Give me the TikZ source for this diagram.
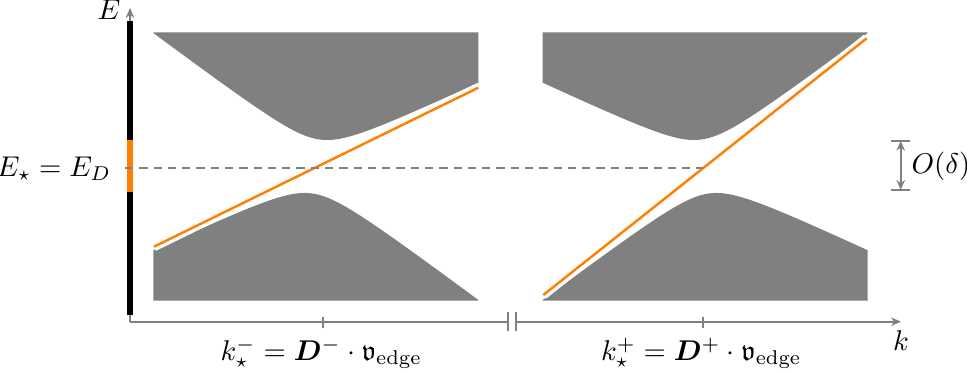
\documentclass[tikz,border=0pt]{standalone}
\usepackage{amsmath,amssymb,bm}
\usetikzlibrary{arrows.meta}
\begin{document}
\begin{tikzpicture}[x=0.35pt,y=-0.35pt,
  declare function={
    yU(\t)=159.47+0.14*(\t-319.3)-100*sqrt(0.3721*((\t-319.3)/100)^2+0.04);
    yL(\t)=333-yU(631.6-\t);
    yUR(\t)=yU(1021-\t);
    yLR(\t)=yL(1021-\t);
  },
  band/.style={fill=gray},
  edgeline/.style={draw=orange, line width=0.85pt, preaction={draw=white, line width=3.2pt}},
  axis/.style={draw=gray, line width=0.6pt},
  lbl/.style={inner sep=0pt},
  >={Stealth[length=3.5pt,width=3pt]}
]
\useasboundingbox (0,0) rectangle (967,373);
% bands
\fill[band] (153.3,32.3) -- plot[domain=153.3:478.3,samples=150] (\x,{yU(\x)}) -- (478.3,32.3) -- cycle;
\fill[band] (153.3,300.7) -- plot[domain=153.3:478.3,samples=150] (\x,{yL(\x)}) -- (478.3,300.7) -- cycle;
\fill[band] (542.7,32.3) -- plot[domain=542.7:867.7,samples=150] (\x,{yUR(\x)}) -- (867.7,32.3) -- cycle;
\fill[band] (542.7,300.7) -- plot[domain=542.7:867.7,samples=150] (\x,{yLR(\x)}) -- (867.7,300.7) -- cycle;
% edge states
\coordinate (oL1) at (154,246.7);
\coordinate (oL2) at (478.3,87.7);
\coordinate (oR1) at (543.3,295);
\coordinate (oR2) at (866.7,38.3);
\draw[edgeline] (oL1) -- (oL2);
\draw[edgeline] (oR1) -- (oR2);
% axes
\coordinate (O) at (130,321.7);
\coordinate (Etop) at (130,8);
\coordinate (brkL) at (508.3,321.7);
\coordinate (brkR) at (516,321.7);
\coordinate (kend) at (901,321.7);
\draw[axis,->] (O) -- (Etop);
\draw[axis] (O) -- (brkL);
\draw[axis,->] (brkR) -- (kend);
\draw[axis] ([yshift=-9.7*0.35pt]brkL) -- ([yshift=9.3*0.35pt]brkL);
\draw[axis] ([yshift=-9.7*0.35pt]brkR) -- ([yshift=9.3*0.35pt]brkR);
\coordinate (tk1) at (323.3,321.7);
\coordinate (tk2) at (703.3,321.7);
\draw[axis] ([yshift=-6.5*0.35pt]tk1) -- ([yshift=5*0.35pt]tk1);
\draw[axis] ([yshift=-6.5*0.35pt]tk2) -- ([yshift=5*0.35pt]tk2);
% spectrum bar
\coordinate (b1) at (130,21);
\coordinate (b2) at (130,140);
\coordinate (b3) at (130,191.7);
\coordinate (b4) at (130,315);
\draw[line width=2.1pt] (b1) -- (b2);
\draw[line width=2.1pt, orange] (b2) -- (b3);
\draw[line width=2.1pt] (b3) -- (b4);
% dashed level
\coordinate (dl) at (125,168);
\coordinate (dr) at (703.3,168);
\draw[gray, line width=0.45pt, dash pattern=on 2.9pt off 2.1pt] (dl) -- (dr);
% O(delta)
\coordinate (dt) at (900.7,140.7);
\coordinate (db) at (900.7,190);
\draw[axis] ([xshift=-9.5*0.35pt]dt) -- ([xshift=9.5*0.35pt]dt);
\draw[axis] ([xshift=-9.5*0.35pt]db) -- ([xshift=9.5*0.35pt]db);
\draw[axis,<->] (dt) -- (db);
\node[lbl, anchor=west] (Od) at (911,166) {$O(\delta)$};
% labels
\node[lbl] (Elab) at (109,10) {$E$};
\node[lbl, anchor=east] (Estar) at (111.7,169) {$E_\star = E_D$};
\node[lbl] (klab) at (901,341) {$k$};
\node[lbl] (kminus) at (321.3,353.3) {$k_\star^- = \bm{D}^- \cdot \mathfrak{v}_{\mathrm{edge}}$};
\node[lbl] (kplus) at (701.3,353.3) {$k_\star^+ = \bm{D}^+ \cdot \mathfrak{v}_{\mathrm{edge}}$};
\end{tikzpicture}
\end{document}
